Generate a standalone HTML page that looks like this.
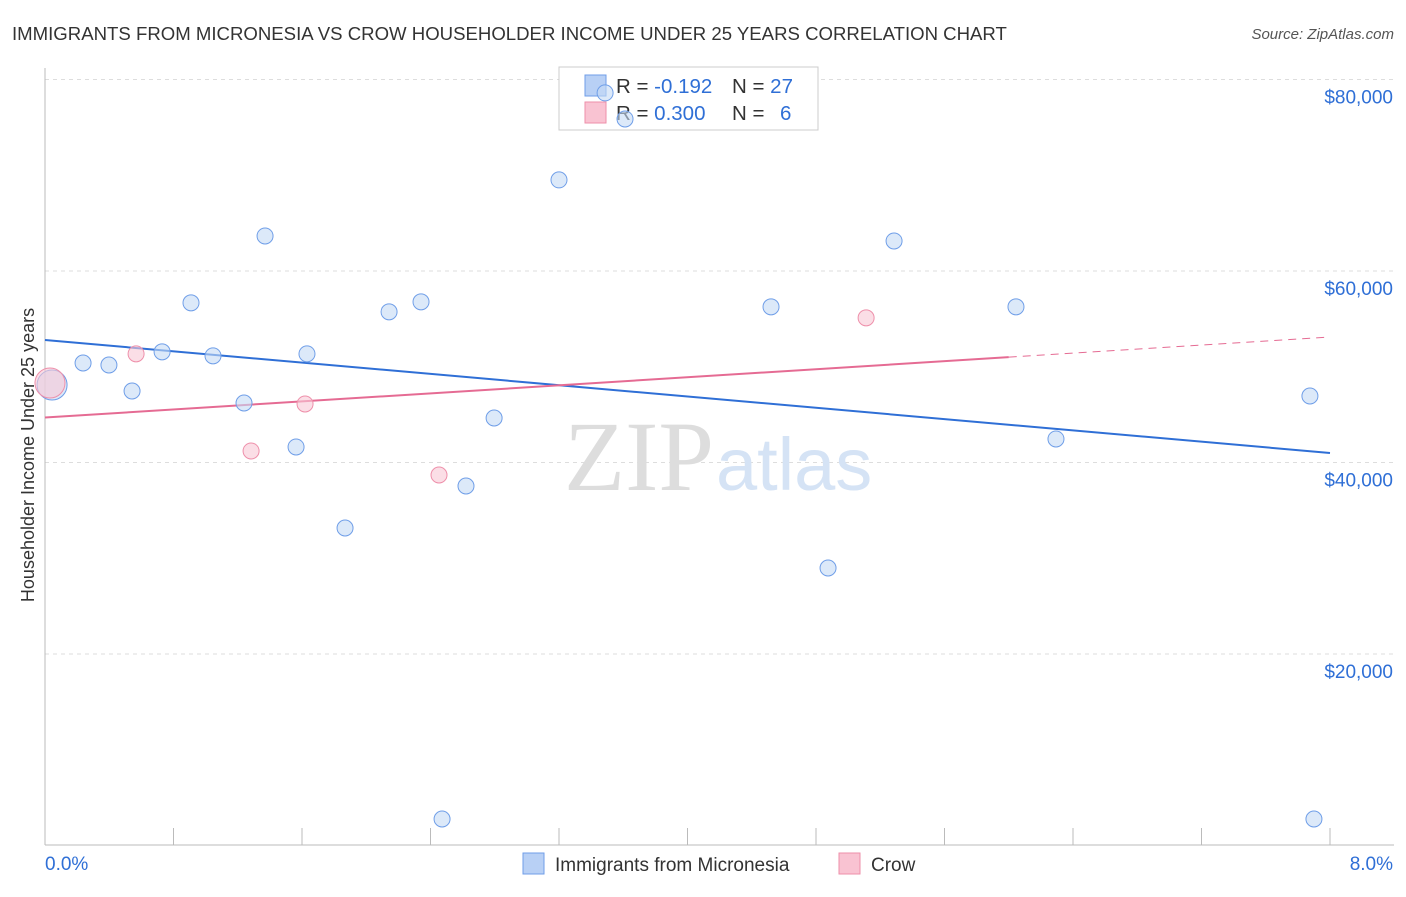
<!DOCTYPE html>
<html><head><meta charset="utf-8"><style>
body{margin:0;background:#fff;font-family:"Liberation Sans",sans-serif;}
</style></head><body>
<svg width="1406" height="892" viewBox="0 0 1406 892" xmlns="http://www.w3.org/2000/svg">
<text x="12" y="40" font-size="18.6" fill="#333">IMMIGRANTS FROM MICRONESIA VS CROW HOUSEHOLDER INCOME UNDER 25 YEARS CORRELATION CHART</text>
<text x="1394" y="39" font-size="15" fill="#555" font-style="italic" text-anchor="end">Source: ZipAtlas.com</text>
<g id="grid"></g>
<g id="axes"></g>
<text x="714" y="490" font-size="100" fill="#ddd" font-family="Liberation Serif,serif" text-anchor="end">ZIP</text>
<text x="716" y="490" font-size="74" fill="#d5e3f5">atlas</text>
<g>
<rect x="559" y="67" width="259" height="63" fill="#fff" stroke="#ccc"/>
<rect x="585" y="75" width="21" height="21" fill="#b8d0f5" stroke="#6f9ee8"/>
<rect x="585" y="102" width="21" height="21" fill="#f9c3d2" stroke="#ee8faa"/>
<text x="616" y="93" font-size="20.5" fill="#333">R = <tspan fill="#2f6fd6">-0.192</tspan><tspan x="732">N = </tspan><tspan fill="#2f6fd6">27</tspan></text>
<text x="616" y="120" font-size="20.5" fill="#333">R = <tspan fill="#2f6fd6">0.300</tspan><tspan x="732">N = </tspan><tspan x="780" fill="#2f6fd6">6</tspan></text>
</g>
<g id="lines"></g>
<g id="pts"></g>
<text transform="translate(34,455) rotate(-90)" font-size="18" fill="#333" text-anchor="middle">Householder Income Under 25 years</text>
<g>
<rect x="523" y="853" width="21" height="21" fill="#b8d0f5" stroke="#6f9ee8"/>
<text x="555" y="871" font-size="19" fill="#333">Immigrants from Micronesia</text>
<rect x="839" y="853" width="21" height="21" fill="#f9c3d2" stroke="#ee8faa"/>
<text x="871" y="871" font-size="19" fill="#333">Crow</text>
</g>
</svg>
<script>
const blueX=[0.044,0.237,0.398,0.542,0.729,0.909,1.046,1.239,1.370,1.563,1.631,1.868,2.142,2.341,2.472,2.621,2.796,3.200,3.487,3.611,4.520,4.875,5.286,6.045,6.294,7.875,7.900];
const blueY=[48094,50392,50183,47467,51559,56677,51141,46214,63657,41621,51350,33159,55737,56781,2768,37546,44648,69512,78598,75880,56259,28982,63135,56259,42457,46945,2768];
const pinkX=[0.031,0.567,1.283,1.619,2.453,5.112];
const pinkY=[48303,51350,41203,46111,38695,55110];
const blueTrend=[52795,40993];
const pinkTrend=[44697,53108];
const pinkSolidEnd=6.0;
const yTicks=[20000,40000,60000,80000];
const yTickLabels=["$20,000","$40,000","$60,000","$80,000"];
const xTicks=[0.8,1.6,2.4,3.2,4.0,4.8,5.6,6.4,7.2,8.0];
const NS="http://www.w3.org/2000/svg";
const X=v=>45+v/8*1285, Y=v=>845.5-v/20000*191.5;
function mk(p,t,a){const e=document.createElementNS(NS,t);for(const k in a)e.setAttribute(k,a[k]);p.appendChild(e);return e;}
const grid=document.getElementById('grid'),axes=document.getElementById('axes'),lines=document.getElementById('lines'),pts=document.getElementById('pts');
yTicks.forEach((v,i)=>{const l=mk(grid,'line',{x1:45,x2:1394,y1:Y(v),y2:Y(v),stroke:'#ddd','stroke-dasharray':'4,4'});


const t=mk(axes,'text',{x:1393,y:Y(v)+24,'font-size':19,fill:'#2f6fd6','text-anchor':'end'});t.textContent=yTickLabels[i];

});
mk(axes,'line',{x1:45,x2:45,y1:68,y2:845,stroke:'#bbb'});
mk(axes,'line',{x1:45,x2:1394,y1:845,y2:845,stroke:'#bbb'});
xTicks.forEach(v=>{const l=mk(axes,'line',{x1:X(v),x2:X(v),y1:828,y2:845,stroke:'#bbb'});

});
let t=mk(axes,'text',{x:45,y:870,'font-size':19,fill:'#2f6fd6'});t.textContent='0.0%';


t=mk(axes,'text',{x:1393,y:870,'font-size':19,fill:'#2f6fd6','text-anchor':'end'});t.textContent='8.0%';


function circ(x,y,r,f,s,n){const c=mk(pts,'circle',{cx:X(x),cy:Y(y),r:r,fill:f,stroke:s,'stroke-width':1,'fill-opacity':0.6});

}
blueX.forEach((x,i)=>circ(x,blueY[i],i==0?15:8,'#c5daf5','#6f9ee8','micronesia-point'));
pinkX.forEach((x,i)=>circ(x,pinkY[i],i==0?15:8,'#f9c8d6','#ee8faa','crow-point'));
let bl=mk(lines,'line',{x1:X(0),y1:Y(blueTrend[0]),x2:X(8),y2:Y(blueTrend[1]),stroke:'#2f6fd6','stroke-width':2});


const py=x=>pinkTrend[0]+(pinkTrend[1]-pinkTrend[0])*x/8;
let pl=mk(lines,'line',{x1:X(0),y1:Y(py(0)),x2:X(pinkSolidEnd),y2:Y(py(pinkSolidEnd)),stroke:'#e56b93','stroke-width':2});


let pd=mk(lines,'line',{x1:X(pinkSolidEnd),y1:Y(py(pinkSolidEnd)),x2:X(8),y2:Y(py(8)),stroke:'#e56b93','stroke-width':1,'stroke-dasharray':'8,6'});


</script>
</body></html>
